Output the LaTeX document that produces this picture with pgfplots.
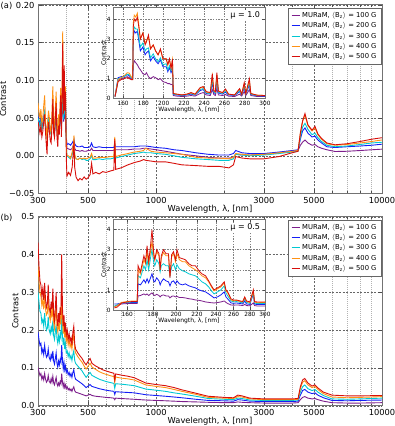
\documentclass[border=0pt]{standalone}
\usepackage{pgfplots}
\pgfplotsset{compat=1.18}
\usepackage{pgfplotstable}
\usepackage{fontspec}
\setmainfont{DejaVu Sans}
\definecolor{cP}{RGB}{125,30,140}
\definecolor{cB}{RGB}{20,30,245}
\definecolor{cC}{RGB}{0,200,210}
\definecolor{cO}{RGB}{255,145,20}
\definecolor{cR}{RGB}{215,15,10}

\pgfplotstableread{
l p b c o r
300 0.050 0.052 0.050 0.070 0.045
303 0.045 0.047 0.045 0.058 0.038
306 0.040 0.042 0.040 0.050 0.030
309 0.048 0.050 0.046 0.062 0.040
312 0.036 0.038 0.034 0.042 0.025
315 0.042 0.044 0.040 0.050 0.032
318 0.050 0.052 0.050 0.066 0.045
321 0.056 0.058 0.058 0.080 0.055
324 0.040 0.042 0.038 0.045 0.030
327 0.030 0.032 0.028 0.030 0.012
329 0.025 0.026 0.022 0.020 0.002
331 0.038 0.040 0.036 0.045 0.028
334 0.050 0.052 0.050 0.060 0.045
337 0.040 0.042 0.040 0.050 0.032
340 0.034 0.036 0.032 0.035 0.020
343 0.030 0.032 0.028 0.030 0.017
346 0.045 0.047 0.045 0.060 0.040
349 0.060 0.062 0.062 0.092 0.075
352 0.038 0.040 0.036 0.045 0.030
355 0.032 0.034 0.030 0.034 0.024
358 0.045 0.047 0.046 0.062 0.050
361 0.058 0.060 0.060 0.085 0.070
364 0.036 0.038 0.034 0.040 0.025
367 0.030 0.032 0.028 0.028 0.012
370 0.040 0.042 0.040 0.055 0.040
373 0.035 0.037 0.034 0.040 0.028
376 0.050 0.052 0.052 0.070 0.060
378 0.060 0.062 0.064 0.090 0.080
381 0.040 0.042 0.040 0.045 0.025
384 0.060 0.062 0.065 0.100 0.090
386 0.090 0.092 0.100 0.165 0.150
388 0.060 0.062 0.065 0.090 0.080
390 0.045 0.047 0.048 0.060 0.055
392 0.070 0.072 0.080 0.110 0.120
394 0.050 0.052 0.055 0.070 0.060
397 0.065 0.067 0.070 0.092 0.085
399 0.040 0.042 0.040 0.040 0.030
401 0.020 0.022 0.010 0.010 -0.010
403 0.010 0.015 0.000 0.000 -0.027
410 0.009 0.016 -0.002 0.000 -0.022
418 0.008 0.014 -0.004 -0.003 -0.026
425 0.010 0.017 0.002 0.005 -0.015
430 0.014 0.020 0.010 0.015 0.005
433 0.018 0.022 0.020 0.027 0.020
436 0.010 0.016 0.000 0.002 -0.015
442 0.007 0.013 -0.004 -0.004 -0.028
451 0.007 0.012 -0.005 -0.005 -0.033
460 0.006 0.012 -0.003 -0.003 -0.030
470 0.007 0.013 -0.005 -0.004 -0.032
480 0.006 0.011 -0.004 -0.003 -0.028
490 0.006 0.011 -0.006 -0.004 -0.031
500 0.007 0.011 -0.006 -0.003 -0.029
510 0.007 0.012 -0.004 -0.002 -0.025
518 0.010 0.017 0.000 0.003 -0.010
525 0.007 0.012 -0.005 -0.003 -0.024
540 0.007 0.011 -0.005 -0.003 -0.022
560 0.007 0.012 -0.004 -0.002 -0.024
580 0.007 0.011 -0.005 -0.002 -0.021
600 0.007 0.011 -0.004 -0.002 -0.022
630 0.007 0.011 -0.004 -0.001 -0.020
650 0.007 0.011 -0.003 -0.001 -0.019
656 0.012 0.016 0.010 0.025 0.022
662 0.008 0.012 -0.003 -0.001 -0.018
700 0.008 0.012 -0.001 0.001 -0.016
750 0.008 0.012 0.001 0.003 -0.012
800 0.009 0.012 0.003 0.005 -0.009
850 0.009 0.013 0.004 0.006 -0.007
880 0.010 0.013 0.005 0.007 -0.005
900 0.010 0.013 0.004 0.010 -0.006
950 0.009 0.012 0.004 0.006 -0.007
1000 0.008 0.011 0.003 0.005 -0.008
1100 0.006 0.010 0.002 0.004 -0.008
1200 0.004 0.008 0.000 0.003 -0.010
1300 0.002 0.007 -0.002 0.002 -0.012
1500 0.000 0.004 -0.004 -0.002 -0.013
1700 -0.002 0.002 -0.005 -0.003 -0.014
1900 -0.003 0.001 -0.006 -0.003 -0.014
2100 -0.003 0.001 -0.006 -0.004 -0.016
2200 -0.002 0.003 -0.004 -0.002 -0.012
2250 0.002 0.007 0.002 0.003 -0.001
2400 0.001 0.004 0.001 0.002 -0.003
2600 0.001 0.003 0.000 0.001 -0.004
3000 0.002 0.003 0.001 0.002 -0.004
3500 0.004 0.005 0.003 0.004 -0.001
4000 0.006 0.007 0.005 0.006 0.004
4250 0.007 0.008 0.006 0.007 0.006
4350 0.014 0.022 0.025 0.030 0.030
4450 0.018 0.033 0.038 0.046 0.046
4560 0.021 0.037 0.043 0.054 0.056
4700 0.017 0.030 0.035 0.040 0.041
4900 0.014 0.025 0.028 0.033 0.034
5050 0.015 0.026 0.030 0.037 0.039
5200 0.012 0.021 0.024 0.028 0.029
5400 0.010 0.017 0.019 0.022 0.023
5700 0.008 0.012 0.014 0.016 0.017
6200 0.0057 0.011 0.012 0.014 0.0146
7000 0.006 0.012 0.013 0.015 0.016
8000 0.007 0.013 0.015 0.017 0.019
9000 0.008 0.014 0.017 0.019 0.022
10000 0.0088 0.0154 0.018 0.021 0.024
}\tabA

\pgfplotstableread{
l p b c o r
300 0.101 0.195 0.300 0.370 0.432
303 0.090 0.175 0.275 0.330 0.370
306 0.080 0.160 0.250 0.300 0.330
309 0.085 0.165 0.245 0.290 0.320
312 0.070 0.140 0.220 0.265 0.290
315 0.078 0.150 0.228 0.280 0.310
318 0.068 0.135 0.210 0.255 0.280
321 0.085 0.160 0.245 0.295 0.325
324 0.070 0.140 0.215 0.255 0.280
327 0.062 0.128 0.200 0.240 0.260
330 0.066 0.132 0.205 0.245 0.270
333 0.080 0.150 0.235 0.285 0.320
336 0.065 0.128 0.200 0.240 0.260
340 0.060 0.120 0.190 0.225 0.245
343 0.072 0.135 0.208 0.250 0.275
346 0.062 0.125 0.195 0.235 0.255
349 0.078 0.145 0.225 0.275 0.310
352 0.060 0.118 0.185 0.220 0.240
355 0.055 0.110 0.175 0.205 0.225
358 0.066 0.125 0.195 0.235 0.260
361 0.075 0.140 0.215 0.265 0.300
364 0.058 0.112 0.178 0.210 0.230
367 0.052 0.102 0.165 0.195 0.210
370 0.060 0.118 0.185 0.220 0.245
373 0.054 0.108 0.170 0.200 0.220
376 0.064 0.122 0.190 0.230 0.260
379 0.058 0.115 0.180 0.215 0.240
382 0.085 0.160 0.240 0.300 0.400
385 0.062 0.120 0.185 0.230 0.260
388 0.050 0.098 0.160 0.190 0.210
391 0.060 0.115 0.180 0.215 0.240
394 0.048 0.095 0.150 0.180 0.195
397 0.055 0.105 0.165 0.200 0.220
400 0.045 0.088 0.140 0.170 0.185
404 0.050 0.095 0.145 0.185 0.200
408 0.042 0.082 0.130 0.160 0.175
412 0.046 0.088 0.140 0.175 0.190
416 0.040 0.078 0.125 0.155 0.170
420 0.044 0.085 0.132 0.165 0.180
424 0.038 0.075 0.120 0.150 0.160
428 0.045 0.088 0.135 0.175 0.195
432 0.050 0.095 0.145 0.190 0.210
436 0.040 0.078 0.120 0.150 0.165
440 0.036 0.070 0.112 0.140 0.150
450 0.034 0.066 0.105 0.130 0.140
460 0.032 0.062 0.098 0.122 0.132
470 0.030 0.058 0.092 0.115 0.125
480 0.028 0.053 0.083 0.105 0.115
490 0.026 0.048 0.075 0.097 0.108
500 0.028 0.052 0.082 0.105 0.118
510 0.030 0.056 0.088 0.112 0.125
520 0.027 0.051 0.080 0.102 0.112
540 0.025 0.048 0.075 0.096 0.105
560 0.024 0.045 0.070 0.090 0.100
580 0.023 0.043 0.067 0.086 0.095
600 0.022 0.041 0.064 0.083 0.092
630 0.021 0.039 0.061 0.079 0.088
650 0.020 0.038 0.059 0.077 0.086
656 0.016 0.030 0.046 0.062 0.068
662 0.020 0.037 0.058 0.076 0.084
700 0.019 0.036 0.057 0.073 0.081
750 0.018 0.035 0.055 0.071 0.078
800 0.017 0.034 0.053 0.068 0.074
900 0.015 0.029 0.044 0.055 0.060
1000 0.014 0.027 0.041 0.051 0.056
1100 0.013 0.025 0.038 0.048 0.053
1200 0.012 0.023 0.034 0.043 0.048
1300 0.011 0.021 0.031 0.038 0.042
1500 0.010 0.017 0.025 0.030 0.033
1700 0.009 0.014 0.019 0.022 0.025
2000 0.008 0.013 0.017 0.020 0.022
2200 0.008 0.012 0.016 0.019 0.021
2300 0.010 0.016 0.020 0.024 0.028
2400 0.009 0.015 0.019 0.023 0.026
2600 0.008 0.012 0.015 0.018 0.020
3000 0.007 0.011 0.014 0.016 0.018
3500 0.007 0.011 0.014 0.016 0.018
4000 0.007 0.011 0.014 0.016 0.018
4250 0.008 0.012 0.015 0.017 0.019
4350 0.016 0.028 0.036 0.045 0.050
4450 0.022 0.040 0.050 0.062 0.068
4550 0.024 0.043 0.055 0.066 0.072
4700 0.020 0.036 0.045 0.055 0.060
4900 0.018 0.032 0.040 0.048 0.052
5050 0.019 0.034 0.043 0.051 0.055
5200 0.016 0.028 0.036 0.043 0.047
5500 0.012 0.021 0.027 0.032 0.036
6000 0.008 0.014 0.018 0.023 0.028
7000 0.007 0.013 0.017 0.021 0.026
8000 0.007 0.014 0.018 0.022 0.026
10000 0.008 0.015 0.020 0.024 0.027
}\tabB

\pgfplotstableread{
l p b c o r
152 0.10 0.10 0.10 0.10 0.10
155 0.90 1.05 1.00 0.95 0.85
158 1.00 1.10 1.05 1.05 0.95
161 1.05 1.12 1.10 1.15 1.00
164 1.10 1.20 1.22 1.30 1.05
166 1.05 1.15 1.20 1.28 1.00
168 1.00 1.05 1.05 1.10 0.95
169.5 1.00 1.00 1.00 1.00 0.95
170 1.70 3.10 3.30 3.80 3.60
171 1.90 3.40 3.60 4.20 4.00
172.5 1.80 3.30 3.50 4.10 3.90
174 1.70 3.40 3.50 4.30 4.10
175.5 1.55 2.90 3.10 3.70 3.60
177 1.45 2.40 2.60 3.00 3.00
179.5 1.25 2.60 2.80 3.30 3.30
181.7 1.20 2.20 2.40 2.80 2.70
183 1.30 2.30 2.50 2.90 2.85
185 1.10 2.40 2.55 3.10 3.20
187 1.00 1.90 2.05 2.50 2.50
189.7 1.10 2.10 2.25 2.70 2.70
192 1.05 1.90 2.00 2.40 2.40
194.5 0.95 1.75 1.85 2.20 2.20
196.8 1.00 1.95 2.05 2.45 2.50
199.3 0.85 1.60 1.70 2.00 2.00
202.5 0.80 1.60 1.75 2.00 2.00
204.1 0.75 1.35 1.45 1.70 1.70
205.7 0.75 1.55 1.65 1.95 2.00
207.3 0.70 1.30 1.40 1.55 1.50
208.7 0.72 1.45 1.55 1.95 2.00
209.5 0.15 0.20 0.22 0.25 0.25
213 0.12 0.18 0.20 0.22 0.22
218 0.10 0.15 0.16 0.18 0.18
223 0.12 0.18 0.20 0.22 0.22
227 0.15 0.22 0.25 0.28 0.30
231 0.12 0.17 0.19 0.21 0.22
236 0.25 0.40 0.45 0.52 0.55
239 0.30 0.45 0.50 0.58 0.60
242 0.18 0.25 0.28 0.32 0.35
246 0.15 0.22 0.25 0.28 0.30
248 0.45 0.80 0.95 1.15 1.25
249.5 0.20 0.30 0.35 0.40 0.40
251 0.15 0.25 0.28 0.32 0.35
252.5 0.50 0.90 1.05 1.20 1.30
254 0.18 0.28 0.32 0.36 0.38
258 0.15 0.22 0.25 0.28 0.30
261 0.20 0.32 0.38 0.45 0.48
264 0.12 0.18 0.20 0.22 0.22
270 0.10 0.15 0.17 0.18 0.18
275 0.22 0.35 0.40 0.48 0.50
277 0.12 0.18 0.20 0.22 0.22
279.5 0.35 0.55 0.65 0.75 0.80
281 0.14 0.20 0.22 0.24 0.25
284.6 0.45 0.70 0.80 0.90 1.00
286 0.15 0.20 0.22 0.25 0.25
292 0.10 0.14 0.15 0.17 0.17
300 0.10 0.12 0.14 0.15 0.15
}\tabAi

\pgfplotstableread{
l p b c o r
151 0.15 0.30 0.20 0.15 0.10
153 0.25 0.30 0.25 0.22 0.15
156 0.30 0.35 0.35 0.38 0.35
160 0.32 0.36 0.38 0.42 0.40
164 0.33 0.37 0.40 0.45 0.42
167.5 0.33 0.38 0.40 0.45 0.42
168.2 0.70 1.30 1.70 2.00 2.20
170 0.72 1.25 1.60 1.80 1.90
172.7 0.80 1.50 2.20 2.50 2.70
174 0.75 1.35 2.00 2.30 2.40
175.2 0.80 1.55 2.50 2.90 3.20
176.5 0.72 1.35 2.00 2.30 2.40
178 0.80 1.60 2.60 2.90 3.20
179.2 0.85 1.80 3.00 3.40 4.00
180.5 0.75 1.45 2.40 2.70 2.90
181.5 0.72 1.40 2.20 2.50 2.50
183.1 0.78 1.60 2.50 2.90 3.00
185 0.72 1.45 2.30 2.70 2.80
186 0.65 1.25 1.90 2.00 2.00
187 0.72 1.40 2.20 2.60 2.70
188.8 0.75 1.55 2.30 2.85 3.00
191 0.70 1.45 2.20 2.70 2.80
193.2 0.70 1.40 2.20 2.70 2.80
194.5 0.60 1.20 1.70 1.70 1.60
196 0.68 1.40 2.15 2.65 2.75
197.7 0.70 1.45 2.30 2.80 2.90
199.5 0.65 1.30 2.00 2.40 2.50
200.8 0.68 1.45 2.25 2.80 3.00
203 0.62 1.30 2.05 2.50 2.60
206 0.62 1.25 1.95 2.40 2.55
208.6 0.60 1.30 1.90 2.40 2.50
212 0.56 1.20 1.80 2.20 2.30
215 0.54 1.15 1.75 2.10 2.20
218.4 0.50 1.10 1.70 2.00 2.20
222 0.48 1.00 1.55 1.85 1.95
225 0.45 0.95 1.40 1.70 1.80
228.8 0.40 0.90 1.30 1.60 1.70
232 0.38 0.80 1.15 1.40 1.45
235 0.36 0.70 0.95 1.15 1.20
237.8 0.35 0.60 0.80 0.95 1.00
241.5 0.37 0.65 0.90 1.05 1.10
245.3 0.40 0.75 1.00 1.15 1.20
249.1 0.45 0.90 1.20 1.35 1.40
251 0.38 0.65 0.85 0.95 1.00
253.1 0.32 0.55 0.70 0.85 0.90
257 0.25 0.35 0.45 0.50 0.55
260 0.24 0.33 0.40 0.45 0.50
263.1 0.25 0.35 0.42 0.48 0.50
268 0.24 0.32 0.38 0.42 0.45
271 0.22 0.30 0.36 0.40 0.42
273.5 0.28 0.45 0.55 0.62 0.65
275.7 0.22 0.30 0.38 0.42 0.45
280 0.21 0.28 0.33 0.37 0.40
284.4 0.35 0.80 0.85 0.95 1.00
286 0.22 0.30 0.35 0.40 0.42
289.4 0.20 0.27 0.32 0.36 0.40
295 0.20 0.27 0.32 0.37 0.40
300 0.20 0.28 0.33 0.38 0.40
}\tabBi

\pgfplotsset{
  mainax/.style={
    scale only axis, width=344pt,
    xmin=300, xmax=10000,
    xtick={300,500,1000,3000,5000,10000},
    xticklabels={300,500,1000,3000,5000,10000},
    minor xtick={400,600,700,800,900,2000,4000,6000,7000,8000,9000},
    xmajorgrids, xminorgrids, ymajorgrids,
    major grid style={dash pattern=on 2pt off 1.5pt, black!60, line width=0.4pt},
    minor grid style={dash pattern=on 1pt off 1pt, black!30, line width=0.4pt},
    tick align=inside,
    major tick length=4pt, minor tick length=2pt,
    tick style={black!70, line width=0.5pt},
    axis line style={black!55, line width=1pt},
    /pgf/number format/assume math mode=true,
    tick label style={font=\fontsize{8.3}{9}\selectfont},
    label style={font=\fontsize{8.3}{9}\selectfont},
    xlabel={Wavelength, λ, [nm]},
    ylabel={Contrast},
    xlabel style={yshift=5pt},
    ylabel style={yshift=-4pt},
    every axis plot/.append style={line width=0.9pt},
    legend cell align=left,
    legend image code/.code={\draw[##1, line width=1.1pt] (0pt,0pt) -- (8pt,0pt);},
    legend style={at={(0.998,0.985)}, anchor=north east,
      font=\fontsize{6.8}{7.5}\selectfont, draw=black!60, line width=0.6pt,
      fill=white, inner xsep=2.5pt, inner ysep=2pt, row sep=-0.4pt},
  },
  insetax/.style={
    scale only axis, width=152pt,
    axis background/.style={fill=white},
    xmajorgrids, ymajorgrids,
    major grid style={dash pattern=on 1.5pt off 1.2pt, black!50, line width=0.35pt},
    tick align=inside,
    major tick length=2.5pt,
    tick style={black!70, line width=0.4pt},
    axis line style={black!55, line width=0.9pt},
    /pgf/number format/assume math mode=true,
    tick label style={font=\fontsize{5.8}{6}\selectfont},
    label style={font=\fontsize{6}{7}\selectfont},
    xlabel={Wavelength, λ, [nm]},
    ylabel={Contrast},
    xlabel style={yshift=5.5pt},
    ylabel style={yshift=-6pt},
    xticklabel style={yshift=1pt},
    yticklabel style={xshift=1pt},
    ytick={0,1,2,3,4},
    every axis plot/.append style={line width=0.8pt},
  },
}

\begin{document}
\begin{tikzpicture}
\path[use as bounding box] (0pt,0pt) rectangle (395pt,426pt);

% ---------- panel (a) ----------
\begin{axis}[name=A, xmode=log, mainax, at={(38pt,232.5pt)}, anchor=south west, height=188.5pt,
  ymin=-0.05, ymax=0.2,
  ytick={-0.05,0,0.05,0.1,0.15,0.2},
  yticklabels={−0.05,0.00,0.05,0.10,0.15,0.20}]
\addplot[cP] table[x=l,y=p]{\tabA}; \addlegendentry{MURaM, $\langle$B\textsubscript{z}$\rangle$ = 100 G}
\addplot[cB] table[x=l,y=b]{\tabA}; \addlegendentry{MURaM, $\langle$B\textsubscript{z}$\rangle$ = 200 G}
\addplot[cC] table[x=l,y=c]{\tabA}; \addlegendentry{MURaM, $\langle$B\textsubscript{z}$\rangle$ = 300 G}
\addplot[cO] table[x=l,y=o]{\tabA}; \addlegendentry{MURaM, $\langle$B\textsubscript{z}$\rangle$ = 400 G}
\addplot[cR] table[x=l,y=r]{\tabA}; \addlegendentry{MURaM, $\langle$B\textsubscript{z}$\rangle$ = 500 G}
\end{axis}
\node[anchor=north west, font=\fontsize{8.3}{9}\selectfont, inner sep=0pt, xshift=-37.5pt, yshift=2.5pt] at (A.north west) {(a)};

\begin{axis}[insetax, at={(113pt,327.5pt)}, anchor=south west, height=91.3pt,
  xmin=150, xmax=300, ymin=0, ymax=4.6,
  xtick={160,180,...,300}]
\addplot[cP] table[x=l,y=p]{\tabAi};
\addplot[cB] table[x=l,y=b]{\tabAi};
\addplot[cC] table[x=l,y=c]{\tabAi};
\addplot[cO] table[x=l,y=o]{\tabAi};
\addplot[cR] table[x=l,y=r]{\tabAi};
\node[anchor=north east, font=\fontsize{8}{9}\selectfont, fill=white, inner sep=1pt] at (rel axis cs:0.975,0.965) {μ = 1.0};
\end{axis}

% ---------- panel (b) ----------
\begin{axis}[name=B, xmode=log, mainax, at={(38pt,20.3pt)}, anchor=south west, height=189pt,
  ymin=0, ymax=0.5,
  ytick={0,0.1,0.2,0.3,0.4,0.5},
  yticklabels={0.0,0.1,0.2,0.3,0.4,0.5}]
\addplot[cP] table[x=l,y=p]{\tabB}; \addlegendentry{MURaM, $\langle$B\textsubscript{z}$\rangle$ = 100 G}
\addplot[cB] table[x=l,y=b]{\tabB}; \addlegendentry{MURaM, $\langle$B\textsubscript{z}$\rangle$ = 200 G}
\addplot[cC] table[x=l,y=c]{\tabB}; \addlegendentry{MURaM, $\langle$B\textsubscript{z}$\rangle$ = 300 G}
\addplot[cO] table[x=l,y=o]{\tabB}; \addlegendentry{MURaM, $\langle$B\textsubscript{z}$\rangle$ = 400 G}
\addplot[cR] table[x=l,y=r]{\tabB}; \addlegendentry{MURaM, $\langle$B\textsubscript{z}$\rangle$ = 500 G}
\end{axis}
\node[anchor=north west, font=\fontsize{8.3}{9}\selectfont, inner sep=0pt, xshift=-37.5pt, yshift=2.5pt] at (B.north west) {(b)};

\begin{axis}[xmode=log, insetax, at={(113pt,116pt)}, anchor=south west, height=90.5pt,
  xmin=150, xmax=300, ymin=0, ymax=4.5,
  xtick={160,180,200,220,240,260,280,300},
  xticklabels={160,180,200,220,240,260,280,300}]
\addplot[cP] table[x=l,y=p]{\tabBi};
\addplot[cB] table[x=l,y=b]{\tabBi};
\addplot[cC] table[x=l,y=c]{\tabBi};
\addplot[cO] table[x=l,y=o]{\tabBi};
\addplot[cR] table[x=l,y=r]{\tabBi};
\node[anchor=north east, font=\fontsize{8}{9}\selectfont, fill=white, inner sep=1pt] at (rel axis cs:0.975,0.965) {μ = 0.5};
\end{axis}
\end{tikzpicture}
\end{document}
